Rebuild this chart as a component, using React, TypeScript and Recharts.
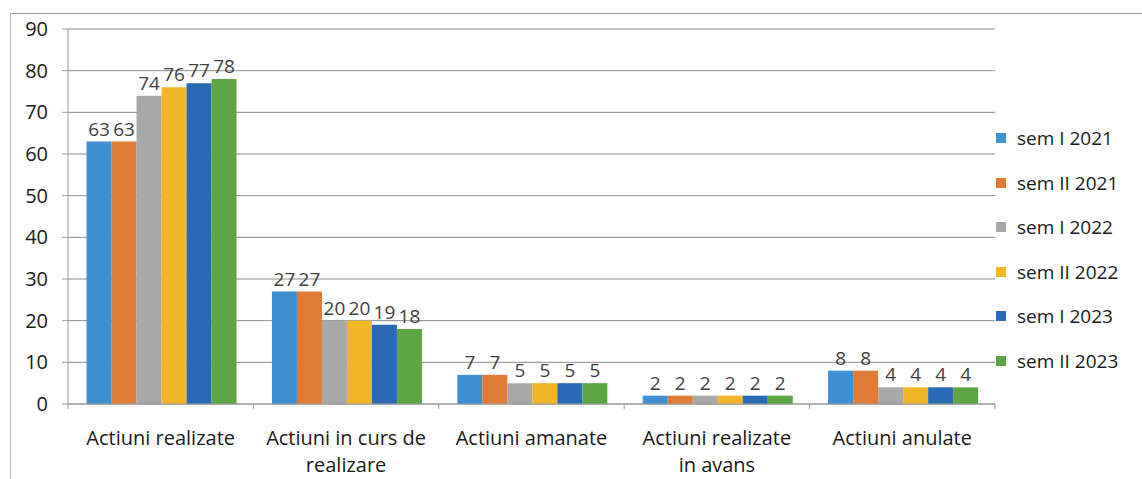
import React from 'react';
import { BarChart, Bar, XAxis, YAxis, CartesianGrid, LabelList } from 'recharts';

const categories = [
  'Actiuni realizate',
  'Actiuni in curs de realizare',
  'Actiuni amanate',
  'Actiuni realizate in avans',
  'Actiuni anulate',
];

const seriesNames = ['sem I 2021', 'sem II 2021', 'sem I 2022', 'sem II 2022', 'sem I 2023', 'sem II 2023'];

const sem1_2021 = [63, 27, 7, 2, 8];
const sem2_2021 = [63, 27, 7, 2, 8];
const sem1_2022 = [74, 20, 5, 2, 4];
const sem2_2022 = [76, 20, 5, 2, 4];
const sem1_2023 = [77, 19, 5, 2, 4];
const sem2_2023 = [78, 18, 5, 2, 4];

const yTicks = [0, 10, 20, 30, 40, 50, 60, 70, 80, 90];

const COLORS = ['#3F8FD2', '#E07A34', '#A8A8A8', '#F2B626', '#2A69B5', '#5EA544'];
const FONT = '"Open Sans", sans-serif';

const seriesValues = [sem1_2021, sem2_2021, sem1_2022, sem2_2022, sem1_2023, sem2_2023];

const data = categories.map((name, i) => {
  const row: { [key: string]: string | number } = { name };
  seriesNames.forEach((s, j) => {
    row[s] = seriesValues[j][i];
  });
  return row;
});

const CAT_W = (995 - 68) / categories.length;

const wrap = (text: string, max: number) => {
  const lines: string[] = [];
  let cur = '';
  text.split(' ').forEach(w => {
    const next = cur ? cur + ' ' + w : w;
    if (next.length > max && cur) {
      lines.push(cur);
      cur = w;
    } else {
      cur = next;
    }
  });
  if (cur) lines.push(cur);
  return lines;
};

const CategoryTick = (props: any) => {
  const { x, y, payload, index } = props;
  const lines = wrap(payload.value, 18);
  return (
    <g>
      <line x1={x - CAT_W / 2} x2={x - CAT_W / 2} y1={y - 8} y2={y - 3} stroke="#999" />
      {index === categories.length - 1 && (
        <line x1={x + CAT_W / 2} x2={x + CAT_W / 2} y1={y - 8} y2={y - 3} stroke="#999" />
      )}
      <text x={x} y={y + 33} textAnchor="middle" fill="#1a1a1a" fontSize={20} fontFamily={FONT}>
        {lines.map((l, i) => (
          <tspan key={l} x={x} dy={i === 0 ? 0 : 27}>
            {l}
          </tspan>
        ))}
      </text>
    </g>
  );
};

const ChartLegend = () => (
  <div
    style={{
      position: 'absolute',
      left: 996,
      top: 116,
      fontFamily: FONT,
      fontSize: 19,
      color: '#1a1a1a',
    }}
  >
    {seriesNames.map((s, i) => (
      <div key={s} style={{ display: 'flex', alignItems: 'center', height: 44.5, whiteSpace: 'nowrap' }}>
        <span style={{ width: 10, height: 10, background: COLORS[i], marginRight: 11, display: 'inline-block' }} />
        {s}
      </div>
    ))}
  </div>
);

export default function App() {
  return (
    <div style={{ position: 'absolute', left: 0, top: 0, width: 1142, height: 479, background: '#fff', overflow: 'hidden' }}>
      <div
        style={{
          position: 'absolute',
          left: 10,
          top: 13,
          right: 0,
          bottom: 0,
          borderTop: '1.5px solid #9a9a9a',
          borderLeft: '1.5px solid #bbb',
        }}
      />
      <BarChart
        width={1142}
        height={479}
        data={data}
        margin={{ top: 29, right: 147, bottom: 0, left: 10 }}
        barCategoryGap="10%"
        barGap={0}
        style={{ position: 'absolute', left: 0, top: 0 }}
      >
        <CartesianGrid vertical={false} stroke="#8a8a8a" />
        <XAxis
          dataKey="name"
          height={75}
          stroke="#999"
          tickLine={false}
          tick={<CategoryTick />}
          interval={0}
        />
        <YAxis
          width={58}
          domain={[0, 90]}
          ticks={yTicks}
          stroke="#999"
          tickSize={6}
          tick={{ fill: '#1a1a1a', fontSize: 20, fontFamily: FONT, dx: -12 }}
        />
        {seriesNames.map((s, i) => (
          <Bar key={s} dataKey={s} fill={COLORS[i]} isAnimationActive={false}>
            <LabelList dataKey={s} position="top" offset={6} fill="#404040" fontSize={19} fontFamily={FONT} />
          </Bar>
        ))}
      </BarChart>
      <ChartLegend />
    </div>
  );
}
